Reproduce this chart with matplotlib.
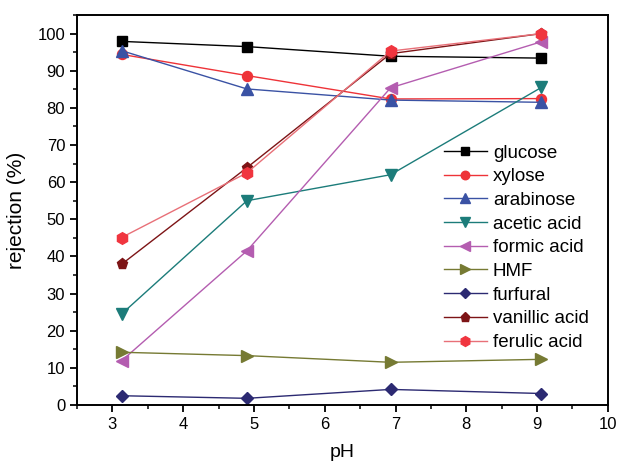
import numpy as np
import matplotlib
matplotlib.use("Agg")
import matplotlib.pyplot as plt
from matplotlib.ticker import MultipleLocator

plt.rcParams['font.family'] = ['Liberation Sans', 'DejaVu Sans']

# pH values of the four runs
ph = [3.13, 4.9, 6.93, 9.06]

# rejection (%) per compound
glucose = [97.9, 96.5, 93.9, 93.4]
xylose = [94.4, 88.7, 82.4, 82.5]
arabinose = [95.4, 85.1, 82.1, 81.5]
acetic_acid = [24.5, 55.0, 62.0, 85.5]
formic_acid = [11.9, 41.5, 85.4, 97.8]
hmf = [14.2, 13.3, 11.5, 12.3]
furfural = [2.5, 1.8, 4.2, 3.1]
vanillic_acid = [37.9, 63.9, 94.6, 100.0]
ferulic_acid = [45.1, 62.5, 95.3, 100.0]

# name, data, marker, marker size, marker colour, line colour
series = [
    ("glucose", glucose, "s", 7.0, "#000000", "#000000"),
    ("xylose", xylose, "o", 7.2, "#ee3338", "#ee3338"),
    ("arabinose", arabinose, "^", 8.4, "#3a52a4", "#3a52a4"),
    ("acetic acid", acetic_acid, "v", 8.4, "#1c7c7a", "#1c7c7a"),
    ("formic acid", formic_acid, "<", 8.4, "#b45db0", "#b45db0"),
    ("HMF", hmf, ">", 8.2, "#767a33", "#767a33"),
    ("furfural", furfural, "D", 6.2, "#2c2a72", "#2c2a72"),
    ("vanillic acid", vanillic_acid, "p", 8.0, "#7d1416", "#7d1416"),
    ("ferulic acid", ferulic_acid, "h", 8.4, "#f0353f", "#e87078"),
]

fig = plt.figure(figsize=(6.18, 4.65), dpi=100)
ax = fig.add_axes([0.1246, 0.129, 0.859, 0.8387])

for name, vals, mk, ms, mc, lc in series:
    ax.plot(ph, vals, color=lc, lw=1.0, marker=mk, markersize=ms,
            markerfacecolor=mc, markeredgecolor=mc, label=name)

ax.set_xlim(2.5, 10)
ax.set_ylim(0, 105)
ax.xaxis.set_major_locator(MultipleLocator(1))
ax.xaxis.set_minor_locator(MultipleLocator(0.5))
ax.yaxis.set_major_locator(MultipleLocator(10))
ax.yaxis.set_minor_locator(MultipleLocator(5))
ax.set_xticks(np.arange(3, 11, 1))
ax.tick_params(which='major', direction='out', length=5, width=1.3, labelsize=12)
ax.tick_params(which='minor', direction='out', length=3, width=1.1)
for s in ax.spines.values():
    s.set_linewidth(1.4)

ax.set_xlabel("pH", fontsize=14, labelpad=9)
ax.set_ylabel("rejection (%)", fontsize=15, labelpad=8)

ax.legend(loc='upper left', bbox_to_anchor=(0.691, 0.668), frameon=False,
          fontsize=13.5, handlelength=2.3, handletextpad=0.32, labelspacing=0.35,
          borderpad=0, borderaxespad=0, markerscale=0.85)

fig.savefig("out.png", dpi=100)
